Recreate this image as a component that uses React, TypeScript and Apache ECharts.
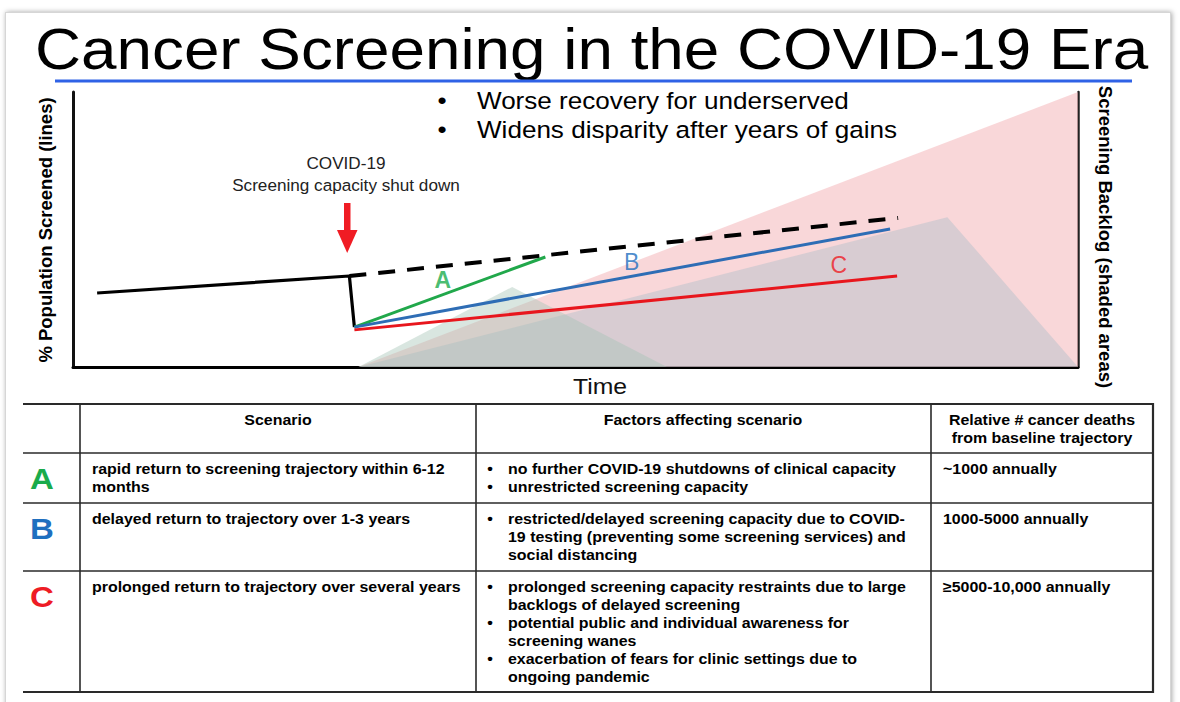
import React, { useEffect, useRef } from 'react';
import * as echarts from 'echarts';

const FONT = '"Liberation Sans", Arial, Helvetica, sans-serif';
const SX = 1.1;

// ---- chart data (x: time 0–100, y: relative level 0–100) ----
const baseline = [[2.4, 26.9], [27.5, 33.1], [28.0, 14.5]];
const trajectory = [[27.5, 33.1], [82.1, 54.2]];
const scenarioA = [[28.0, 14.5], [47.0, 40.0]];
const scenarioB = [[28.0, 14.5], [81.3, 50.2]];
const scenarioC = [[28.0, 13.5], [82.0, 33.1]];
const backlogA = [[28.4, 0], [43.7, 29.1], [59.1, 0]];
const backlogB = [[28.4, 0], [87.0, 54.5], [100, 0]];
const backlogC = [[28.4, 0], [100, 100]];
const scenarioLetters = ['A', 'B', 'C'];
const letterPoints = [[36.8, 31.6], [55.6, 38.2], [76.2, 37.1]];

// ---- texts ----
const titleText = 'Cancer Screening in the COVID-19 Era';
const bullets = ['Worse recovery for underserved', 'Widens disparity after years of gains'];
const covidNote = ['COVID-19', 'Screening capacity shut down'];
const yAxisName = '% Population Screened (lines)';
const y2AxisName = 'Screening Backlog (shaded areas)';
const xAxisName = 'Time';

// ---- table data ----
const tableHeaders = [['Scenario'], ['Factors affecting scenario'], ['Relative # cancer deaths', 'from baseline trajectory']];
const scenarioText = [
  ['rapid return to screening trajectory within 6-12', 'months'],
  ['delayed return to trajectory over 1-3 years'],
  ['prolonged return to trajectory over several years'],
];
const factorText = [
  [['no further COVID-19 shutdowns of clinical capacity'], ['unrestricted screening capacity']],
  [['restricted/delayed screening capacity due to COVID-', '19 testing (preventing some screening services) and', 'social distancing']],
  [
    ['prolonged screening capacity restraints due to large', 'backlogs of delayed screening'],
    ['potential public and individual awareness for', 'screening wanes'],
    ['exacerbation of fears for clinic settings due to', 'ongoing pandemic'],
  ],
];
const deathText = ['~1000 annually', '1000-5000 annually', '≥5000-10,000 annually'];

// ---- styles ----
const lineColors = { A: '#21a84b', B: '#2e6db5', C: '#e8161d' };
const letterColors = ['#1aab4b', '#1f6fbf', '#ee1c25'];
const letterWeights = ['bold', 'normal', 'normal'];

const txt = (text: string, x: number, y: number, size: number, o: any = {}) => ({
  type: 'text',
  x,
  y,
  rotation: o.rotation ?? 0,
  scaleX: o.noScale ? 1 : SX,
  silent: true,
  style: {
    text,
    fontSize: size,
    fontWeight: o.weight ?? 'normal',
    fontFamily: FONT,
    fill: o.color ?? '#000',
    textAlign: o.align ?? 'left',
    textVerticalAlign: 'middle',
  },
});

const hline = (y: number, x1: number, x2: number, w: number) => ({
  type: 'line', silent: true,
  shape: { x1, y1: y, x2, y2: y },
  style: { stroke: '#2a2a2a', lineWidth: w },
});
const vline = (x: number, y1: number, y2: number, w: number) => ({
  type: 'line', silent: true,
  shape: { x1: x, y1, x2: x, y2 },
  style: { stroke: '#2a2a2a', lineWidth: w },
});

function buildGraphic() {
  const g: any[] = [];
  // title
  g.push(txt(titleText, 35, 49, 58));
  g.push({ type: 'line', silent: true, shape: { x1: 55, y1: 81, x2: 1132, y2: 81 }, style: { stroke: '#2f62e6', lineWidth: 3 } });
  // bullets
  bullets.forEach((b, i) => {
    g.push(txt('•', 442, 100 + i * 29.5, 23.7, { align: 'center' }));
    g.push(txt(b, 477, 100 + i * 29.5, 23.7));
  });
  // covid note + arrow
  g.push(txt(covidNote[0], 346, 163, 15.6, { align: 'center', color: '#222' }));
  g.push(txt(covidNote[1], 346, 185, 15.6, { align: 'center', color: '#222' }));
  g.push({ type: 'rect', silent: true, shape: { x: 344, y: 203, width: 6.5, height: 30 }, style: { fill: '#f01c24' } });
  g.push({ type: 'polygon', silent: true, shape: { points: [[337, 230], [357.5, 230], [347.2, 253]] }, style: { fill: '#f01c24' } });
  // axis names
  g.push(txt(yAxisName, 45, 230, 18.5, { rotation: Math.PI / 2, noScale: true, weight: 'bold', align: 'center' }));
  g.push(txt(y2AxisName, 1105, 237, 18.5, { rotation: -Math.PI / 2, noScale: true, weight: 'bold', align: 'center' }));
  g.push(txt(xAxisName, 600, 386, 22.5, { align: 'center', color: '#111' }));

  // table grid
  const rowYs = [404, 453, 503, 571, 692];
  rowYs.forEach((y, i) => g.push(hline(y, 23, 1154, i === 0 || i === rowYs.length - 1 ? 2.2 : 1.6)));
  [80, 476, 931].forEach((x) => g.push(vline(x, 404, 692, 1.6)));
  g.push(vline(1153, 403, 693, 2.2));

  const TS = 14.5;
  const LH = 18;
  // headers
  const headerCenters = [278, 703, 1042];
  tableHeaders.forEach((lines, c) => {
    lines.forEach((l, k) => g.push(txt(l, headerCenters[c], 420 + k * LH, TS, { align: 'center', weight: 'bold' })));
  });
  // rows
  for (let r = 0; r < 3; r++) {
    const top = rowYs[r + 1];
    g.push(txt(scenarioLetters[r], 42, top + 26, 30, { align: 'center', weight: 'bold', color: letterColors[r] }));
    scenarioText[r].forEach((l, k) => g.push(txt(l, 92, top + 16 + k * LH, TS, { weight: 'bold' })));
    let line = 0;
    factorText[r].forEach((item) => {
      g.push(txt('•', 490, top + 16 + line * LH, TS, { align: 'center', weight: 'bold' }));
      item.forEach((l) => {
        g.push(txt(l, 508, top + 16 + line * LH, TS, { weight: 'bold' }));
        line++;
      });
    });
    g.push(txt(deathText[r], 943, top + 16, TS, { weight: 'bold' }));
  }
  return g;
}

const area = (data: number[][], color: string, opacity: number) => ({
  type: 'line',
  data,
  symbol: 'none',
  silent: true,
  z: 1,
  lineStyle: { width: 0, opacity: 0 },
  areaStyle: { color, opacity },
});

const line = (data: number[][], color: string, width: number, type: any = 'solid') => ({
  type: 'line',
  data,
  symbol: 'none',
  silent: true,
  z: 5,
  lineStyle: { color, width, type, cap: 'butt' },
});

const option: any = {
  animation: false,
  grid: { left: 73, right: 102, top: 92, bottom: 335 },
  xAxis: {
    type: 'value', min: 0, max: 100,
    axisLine: { show: true, onZero: false, lineStyle: { color: '#000', width: 3 } },
    axisTick: { show: false }, axisLabel: { show: false }, splitLine: { show: false },
  },
  yAxis: [
    {
      type: 'value', min: 0, max: 100, position: 'left',
      axisLine: { show: true, lineStyle: { color: '#111', width: 3 } },
      axisTick: { show: false }, axisLabel: { show: false }, splitLine: { show: false },
    },
    {
      type: 'value', min: 0, max: 100, position: 'right',
      axisLine: { show: true, lineStyle: { color: '#222', width: 2.5 } },
      axisTick: { show: false }, axisLabel: { show: false }, splitLine: { show: false },
    },
  ],
  series: [
    area(backlogC, 'rgb(244,182,186)', 0.55),
    area(backlogB, 'rgb(183,193,203)', 0.5),
    area(backlogA, 'rgb(165,195,180)', 0.42),
    line(baseline, '#000', 3.2),
    line(trajectory, '#000', 4, [17, 12]),
    line(scenarioA, lineColors.A, 3),
    line(scenarioB, lineColors.B, 3),
    line(scenarioC, lineColors.C, 3),
    {
      type: 'scatter',
      silent: true,
      z: 6,
      symbolSize: 1,
      itemStyle: { color: 'transparent' },
      data: letterPoints.map((p, i) => ({ value: p, label: { color: letterColors[i], fontWeight: letterWeights[i] } })),
      label: {
        show: true,
        position: 'inside',
        formatter: (p: any) => scenarioLetters[p.dataIndex],
        fontSize: 23,
        fontFamily: FONT,
      },
    },
  ],
  graphic: { elements: buildGraphic() },
};

export default function App() {
  const ref = useRef<HTMLDivElement>(null);
  useEffect(() => {
    const chart = echarts.init(ref.current!, null, { renderer: 'svg' });
    chart.setOption(option);
    return () => chart.dispose();
  }, []);
  return (
    <div style={{ position: 'fixed', left: 0, top: 0, width: 1180, height: 702, background: '#fff', overflow: 'hidden' }}>
      <div
        style={{
          position: 'absolute', left: 5, top: 12, width: 1164, height: 720,
          background: '#fff', border: '1px solid #d6d6d6', boxShadow: '1px 0 5px rgba(0,0,0,0.35)',
        }}
      />
      <div ref={ref} style={{ position: 'absolute', left: 0, top: 0, width: 1180, height: 702 }} />
    </div>
  );
}
